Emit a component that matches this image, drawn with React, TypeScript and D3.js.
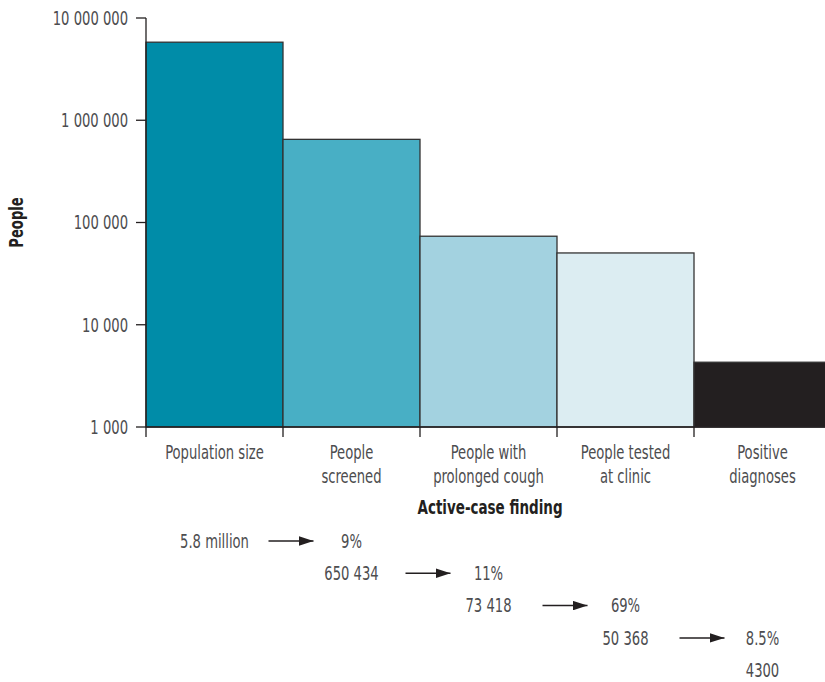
import React from "react";
import * as d3 from "d3";

const categories = [
  ["Population size"],
  ["People", "screened"],
  ["People with", "prolonged cough"],
  ["People tested", "at clinic"],
  ["Positive", "diagnoses"],
];
const values = [5800000, 650434, 73418, 50368, 4300];
const valueLabels = ["5.8 million", "650 434", "73 418", "50 368", "4300"];
const percentLabels = ["9%", "11%", "69%", "8.5%"];
const yTicks = [1000, 10000, 100000, 1000000, 10000000];
const colors = ["#008ca8", "#48afc5", "#a3d2e0", "#dcedf2", "#231f20"];

const width = 825;
const height = 682;
const FONT = "'DejaVu Sans Condensed', 'Liberation Sans Narrow', Arial, sans-serif";
const SQUEEZE = 0.75;
const FS = 19.5;

// condensed text: the original font is narrower than anything installed
const CText: React.FC<{
  x: number;
  y: number;
  anchor?: string;
  size?: number;
  bold?: boolean;
  fill?: string;
  children: React.ReactNode;
}> = ({ x, y, anchor = "middle", size = FS, bold = false, fill = "#4d4d4f", children }) => (
  <text
    transform={`translate(${x},${y}) scale(${SQUEEZE},1)`}
    dy="0.35em"
    textAnchor={anchor}
    fontSize={size}
    fontWeight={bold ? "bold" : "normal"}
    fill={fill}
  >
    {children}
  </text>
);

const App: React.FC = () => {
  const x = d3
    .scaleBand<number>()
    .domain(d3.range(values.length))
    .range([146, 146 + 137 * values.length])
    .paddingInner(0)
    .paddingOuter(0);

  const y = d3.scaleLog().domain([1000, 10000000]).range([427, 18]);
  const fmt = (v: number) => d3.format(",")(v).replace(/,/g, " ");

  const bottom = y(1000);
  const rowY = (i: number) => 541 + i * 32.3;
  const cx = (i: number) => x(i)! + x.bandwidth() / 2;

  return (
    <svg
      width={width}
      height={height}
      style={{ position: "absolute", left: 0, top: 0, background: "#fff" }}
      fontFamily={FONT}
    >
      <defs>
        <marker
          id="arrowHead"
          viewBox="0 0 10 6.5"
          refX="10"
          refY="3.25"
          markerWidth="10"
          markerHeight="6.5"
          orient="auto"
          markerUnits="strokeWidth"
        >
          <path d="M0,0 L10,3.25 L0,6.5 Z" fill="#231f20" />
        </marker>
      </defs>

      {/* bars */}
      {values.map((v, i) => (
        <rect
          key={i}
          x={x(i)!}
          y={y(v)}
          width={x.bandwidth()}
          height={bottom - y(v)}
          fill={colors[i]}
          stroke="#333"
          strokeWidth={1.3}
        />
      ))}

      {/* y axis */}
      <line x1={146} x2={146} y1={y(10000000)} y2={bottom} stroke="#231f20" strokeWidth={1.3} />
      {yTicks.map((t) => (
        <g key={t}>
          <line x1={136} x2={146} y1={y(t)} y2={y(t)} stroke="#231f20" strokeWidth={1.3} />
          <CText x={128} y={y(t)} anchor="end">
            {fmt(t)}
          </CText>
        </g>
      ))}
      <text
        transform={`translate(23,${(y(10000000) + bottom) / 2}) rotate(-90) scale(${SQUEEZE},1)`}
        textAnchor="middle"
        fontSize={FS}
        fontWeight="bold"
        fill="#231f20"
      >
        People
      </text>

      {/* x axis */}
      <line x1={146} x2={width} y1={bottom} y2={bottom} stroke="#231f20" strokeWidth={1.3} />
      {d3.range(values.length).map((i) => (
        <line
          key={i}
          x1={x(i)!}
          x2={x(i)!}
          y1={bottom}
          y2={bottom + 10}
          stroke="#231f20"
          strokeWidth={1.3}
        />
      ))}
      {categories.map((lines, i) =>
        lines.map((l, j) => (
          <CText key={`${i}-${j}`} x={cx(i)} y={452 + j * 24}>
            {l}
          </CText>
        ))
      )}
      <CText x={490} y={507} size={20} bold fill="#231f20">
        Active-case finding
      </CText>

      {/* flow rows */}
      {valueLabels.map((lab, i) => (
        <g key={i}>
          <CText x={cx(i)} y={rowY(i)}>
            {lab}
          </CText>
          {i < percentLabels.length && (
            <>
              <line
                x1={cx(i) + 54}
                x2={cx(i + 1) - 38}
                y1={rowY(i)}
                y2={rowY(i)}
                stroke="#231f20"
                strokeWidth={1.5}
                markerEnd="url(#arrowHead)"
              />
              <CText x={cx(i + 1)} y={rowY(i)}>
                {percentLabels[i]}
              </CText>
            </>
          )}
        </g>
      ))}
    </svg>
  );
};

export default App;
